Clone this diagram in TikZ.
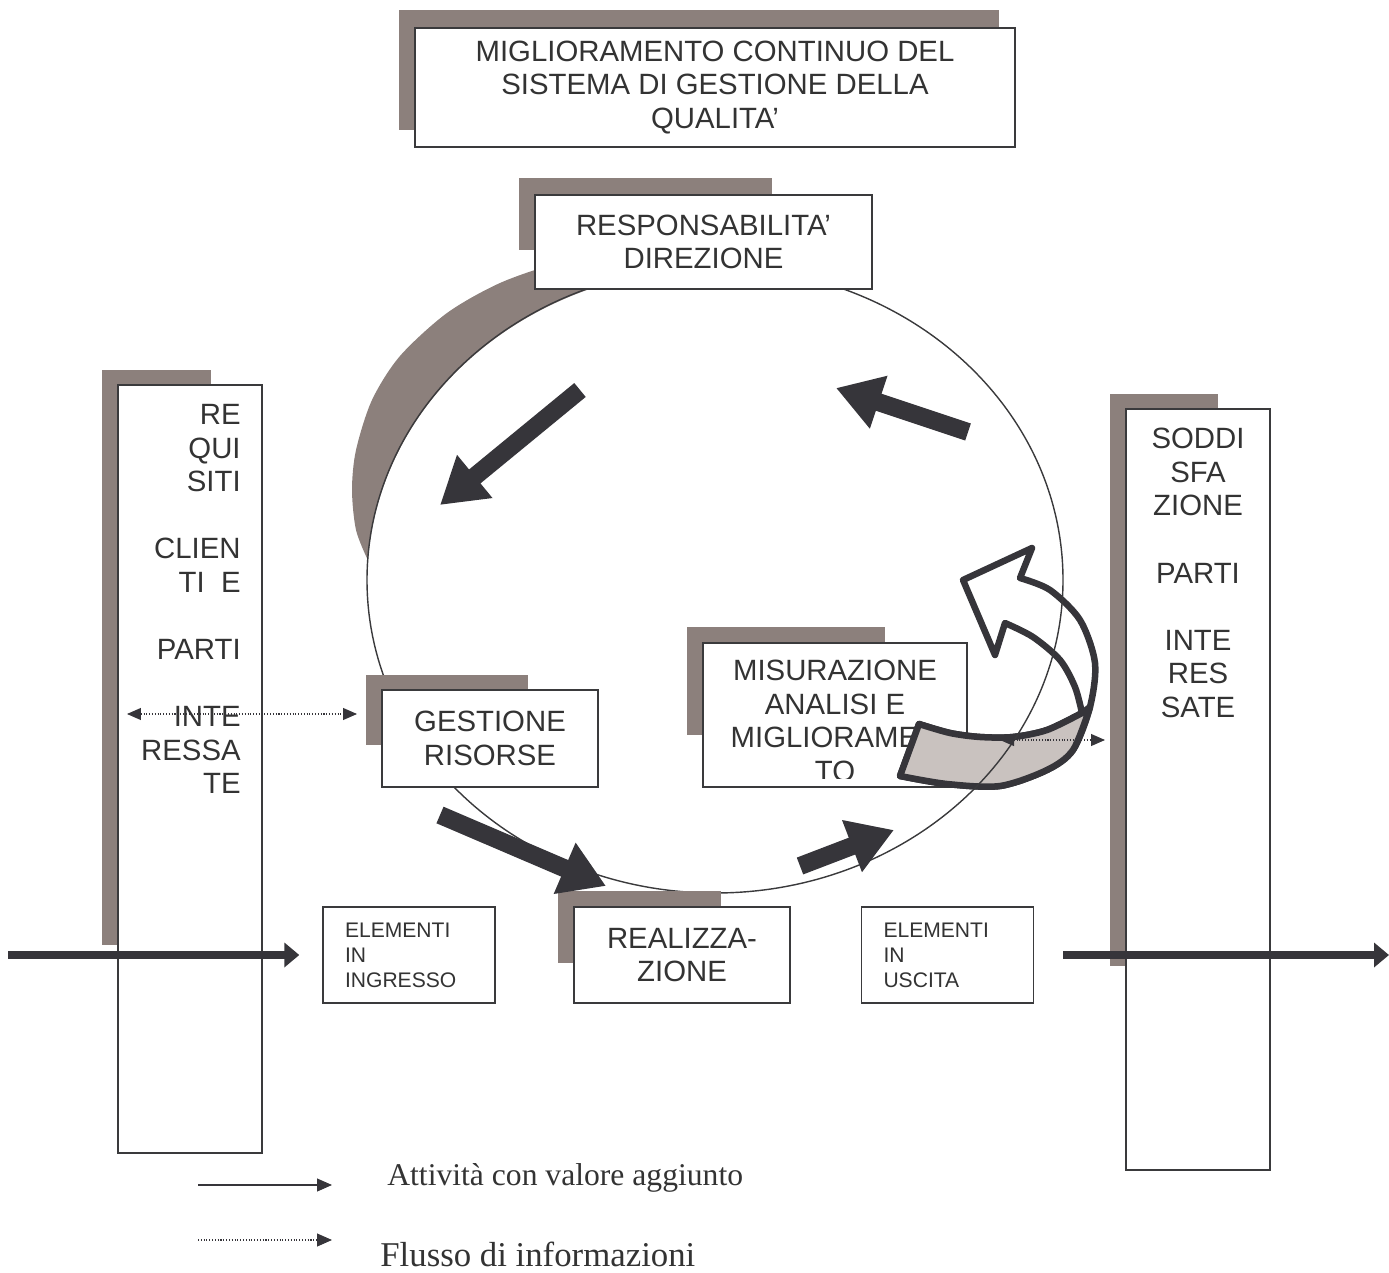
\documentclass[tikz,border=0pt]{standalone}
\usepackage{fontspec}
\setmainfont{Liberation Sans}
\newfontfamily\legfont{Liberation Serif}
\usetikzlibrary{arrows.meta}
\definecolor{shadowc}{RGB}{140,128,124}
\definecolor{arrowc}{RGB}{54,53,58}
\definecolor{bandc}{RGB}{201,194,191}
\definecolor{linec}{RGB}{58,58,60}
\definecolor{textc}{RGB}{51,51,51}
\begin{document}
\begin{tikzpicture}[x=0.02cm,y=-0.02cm,
  every node/.style={text=textc,inner sep=0pt},
  box/.style={draw=linec,line width=0.8pt,fill=white,font=\fontsize{16.7}{19.1}\selectfont,align=center},
  smallbox/.style={draw=linec,line width=0.8pt,fill=white,font=\fontsize{12}{14.2}\selectfont,
    align=left,text width=2.56cm,inner xsep=0.44cm,minimum height=1.92cm},
  boxtext/.style={font=\fontsize{16.7}{19.1}\selectfont},
  bigarrow/.style={draw=arrowc,line width=0.36cm,-{Triangle[width=1.05cm,length=0.9cm]}},
  flow/.style={draw=arrowc,line width=0.16cm,-{Triangle[width=0.48cm,length=0.3cm]}},
  info/.style={draw=arrowc,densely dotted,line width=0.6pt,
    {Triangle[width=0.24cm,length=0.28cm]}-{Triangle[width=0.24cm,length=0.28cm]}},
  legarrow/.style={draw=arrowc,line width=0.6pt,-{Triangle[width=0.26cm,length=0.3cm]}},
  leginfo/.style={draw=arrowc,densely dotted,line width=0.6pt,-{Triangle[width=0.26cm,length=0.3cm]}},
  curved/.style={draw=arrowc,line width=0.13cm,line join=round},
  legend/.style={font=\legfont\fontsize{18}{21}\selectfont}]
  \useasboundingbox (0,0) rectangle (1389,1273);

  % shadow of the cycle
  \fill[shadowc] plot[smooth] coordinates {(367.7,559.8) (356,530) (352,490) (356,450) (372,400)
    (400,356) (447,313) (500,283) (560,262) (610,250)}
    -- (610,282.6) arc[start angle=252.4,end angle=183.7,x radius=348,y radius=313] -- cycle;

  % measuring box (lies under the curved arrow)
  \fill[shadowc] (687,627) rectangle (885,735);
  \node[box,minimum width=5.28cm,minimum height=2.88cm] (misur) at (835,715) {};
  \begin{scope}
    \clip (703,643) rectangle (967,778);
    \node[boxtext,align=center] (misurtxt) at (835,721) {MISURAZIONE\\ANALISI E\\MIGLIORAMEN\\TO};
  \end{scope}

  % curved arrow
  \filldraw[curved,fill=white]
    plot[smooth] coordinates {(900,776) (947,784) (1000,786) (1047,770) (1073,750) (1090,707)
      (1095,663) (1080,620) (1050,590) (1020,578)}
    -- (1032,548) -- (963,580) -- (995,655)
    -- plot[smooth] coordinates {(1005,623) (1033,637) (1060,660) (1075,687) (1082,713)}
    -- plot[smooth] coordinates {(1082,713) (1047,730) (1013,737) (980,737) (950,733) (919,724)}
    -- cycle;
  \filldraw[curved,fill=bandc]
    plot[smooth] coordinates {(919,724) (950,733) (980,737) (1013,737) (1047,730) (1082,713)}
    -- plot[smooth] coordinates {(1090,707) (1073,750) (1047,770) (1000,786) (947,784) (900,776)}
    -- cycle;

  % the cycle
  \draw[linec,line width=0.8pt] (715,580) ellipse [x radius=348,y radius=313];

  % top
  \fill[shadowc] (399,10) rectangle (999,130);
  \node[box,minimum width=12cm,minimum height=2.38cm] (title) at (715,87.5)
    {MIGLIORAMENTO CONTINUO DEL\\SISTEMA DI GESTIONE DELLA\\QUALITA’};
  \fill[shadowc] (519,178) rectangle (772,250);
  \node[box,minimum width=6.74cm,minimum height=1.88cm] (resp) at (703.5,242)
    {RESPONSABILITA’\\DIREZIONE};

  % left column
  \fill[shadowc] (102,370) rectangle (211,945);
  \node[box,minimum width=2.88cm,minimum height=15.36cm] (req) at (190,769) {};
  \node[boxtext,align=right,anchor=north east] (reqtxt) at (241,404)
    {RE\\QUI\\SITI\\[19.1pt]CLIEN\\TI\ \ E\\[19.1pt]PARTI\\[19.1pt]INTE\\RESSA\\TE};

  % right column
  \fill[shadowc] (1110,394) rectangle (1218,966);
  \node[box,minimum width=2.88cm,minimum height=15.22cm] (sodd) at (1198,789.5) {};
  \node[boxtext,align=center,anchor=north] (soddtxt) at (1198,428)
    {SODDI\\SFA\\ZIONE\\[19.1pt]PARTI\\[19.1pt]INTE\\RES\\SATE};

  % boxes on the cycle
  \fill[shadowc] (366,675) rectangle (528,745);
  \node[box,minimum width=4.32cm,minimum height=1.94cm] (gest) at (490,738.5) {GESTIONE\\RISORSE};
  \fill[shadowc] (558,891) rectangle (721,963);
  \node[box,minimum width=4.32cm,minimum height=1.92cm] (real) at (682,955) {REALIZZA-\\ZIONE};
  \node[smallbox] (ingr) at (409,955) {ELEMENTI\\IN\\INGRESSO};
  \node[smallbox] (usc) at (947.5,955) {ELEMENTI\\IN\\USCITA};

  % arrows round the cycle
  \coordinate (a1s) at (580,390); \coordinate (a1e) at (440,505);
  \coordinate (a2s) at (968,432); \coordinate (a2e) at (836,388);
  \coordinate (a3s) at (440,815); \coordinate (a3e) at (606,886);
  \coordinate (a4s) at (800,866); \coordinate (a4e) at (894,830);
  \draw[bigarrow] (a1s) -- (a1e);
  \draw[bigarrow] (a2s) -- (a2e);
  \draw[bigarrow] (a3s) -- (a3e);
  \draw[bigarrow] (a4s) -- (a4e);

  % input and output
  \coordinate (inl) at (8,955);
  \coordinate (outr) at (1389,955);
  \draw[flow,shorten >=0.46cm] (inl) -- (ingr);
  \draw[flow,shorten <=0.58cm] (usc) -- (outr);

  % information flows
  \coordinate (il) at (127,714); \coordinate (ir) at (357,714);
  \draw[info] (il) -- (ir);
  \coordinate (ml) at (1000,740); \coordinate (mr) at (1105,740);
  \draw[info] (ml) -- (mr);

  % legend
  \coordinate (l1a) at (198,1185); \coordinate (l1b) at (332,1185);
  \coordinate (l2a) at (198,1240); \coordinate (l2b) at (332,1240);
  \draw[legarrow] (l1a) -- (l1b);
  \draw[leginfo] (l2a) -- (l2b);
  \node[legend,anchor=base west] (leg1) at (387,1185) {Attività con valore aggiunto};
  \node[legend,font=\legfont\fontsize{19.8}{23}\selectfont,anchor=base west] (leg2) at (380,1266)
    {Flusso di informazioni};
\end{tikzpicture}
\end{document}
